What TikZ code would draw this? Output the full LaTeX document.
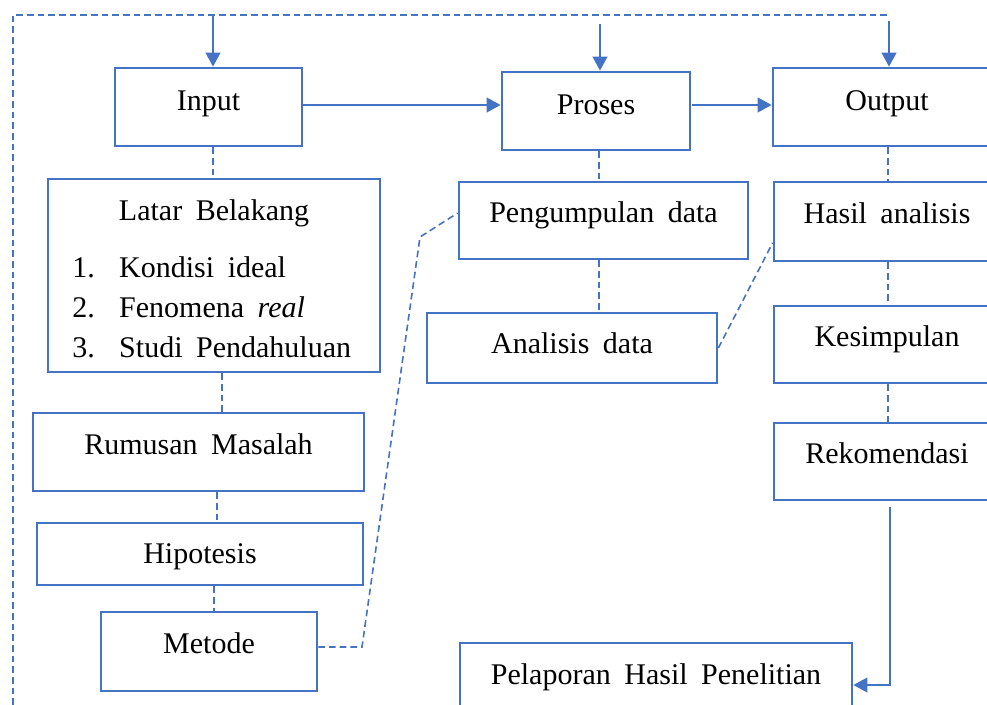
\documentclass[tikz,border=0pt]{standalone}
\usepackage{fontspec}
\setmainfont{Liberation Serif}[WordSpace=1.8]
\usetikzlibrary{arrows.meta}
\definecolor{bblue}{HTML}{4472C4}
\begin{document}
\begin{tikzpicture}[x=0.75pt,y=-0.75pt,
  every node/.style={font=\fontsize{22.5}{30}\selectfont, text=black},
  box/.style={draw=bblue, line width=2pt, inner sep=0pt, align=center,
              text height=7pt, text depth=4pt},
  lowtext/.style={text depth=1pt},
  dsh/.style={draw=bblue, line width=1.2pt, dash pattern=on 5pt off 3pt},
  arr/.style={draw=bblue, line width=1.5pt, -{Triangle[length=10.5pt,width=11pt]}}]
\useasboundingbox (0,0) rectangle (987,705);

% boxes
\node[box, lowtext, minimum width=140.25pt, minimum height=58.5pt] (input) at (208.5,107) {Input};
\node[box, lowtext, minimum width=141pt, minimum height=58.5pt] (proses) at (596,111) {Proses};
\node[box, lowtext, minimum width=171pt, minimum height=58.5pt] (output) at (887,107) {Output};

\node[box, minimum width=249pt, minimum height=144.75pt] (latar) at (214,275.5) {};
\node[anchor=base, inner sep=0pt] (latarT) at (214,221) {Latar Belakang};
\node[anchor=base west, inner sep=0pt] (latarL) at (72,278)
  {\begin{tabular}[t]{@{}p{35.25pt}@{}l@{}}
   1. & Kondisi ideal\\
   2. & Fenomena \textit{real}\\
   3. & Studi Pendahuluan
   \end{tabular}};

\node[box, minimum width=248.25pt, minimum height=58.5pt] (rumusan) at (198.5,452) {Rumusan Masalah};
\node[box, minimum width=244.5pt, minimum height=46.5pt, text height=14pt, text depth=0.2pt] (hipotesis) at (200,554) {Hipotesis};
\node[box, minimum width=162pt, minimum height=59.25pt] (metode) at (209,651.5) {Metode};

\node[box, minimum width=216.75pt, minimum height=57.75pt] (pengumpulan) at (603.5,220.5) {Pengumpulan data};
\node[box, minimum width=217.5pt, minimum height=52.5pt, text height=9pt, text depth=1pt] (analisis) at (572,348) {Analisis data};

\node[box, minimum width=169.5pt, minimum height=59.25pt] (hasil) at (887,221.5) {Hasil analisis};
\node[box, minimum width=169.5pt, minimum height=57.75pt] (kesimpulan) at (887,344.5) {Kesimpulan};
\node[box, minimum width=169.5pt, minimum height=57.75pt] (rekomendasi) at (887,461.5) {Rekomendasi};

\node[box, minimum width=294pt, minimum height=58.5pt] (pelaporan) at (656,682) {Pelaporan Hasil Penelitian};

% outer dashed frame
\coordinate (fbl) at (13,705);
\coordinate (ftl) at (13,15);
\coordinate (ftr) at (888,15);
\draw[dsh] (fbl) -- (ftl) -- (ftr);

% arrows from the frame
\coordinate (t1) at (213,15);
\coordinate (t2) at (600,24);
\coordinate (t3) at (889,21);
\draw[arr] (t1) -- (t1 |- input.north);
\draw[arr] (t2) -- (t2 |- proses.north);
\draw[arr] (t3) -- (t3 |- output.north);

% main flow arrows
\draw[arr] ([yshift=1.5pt]input.east) -- ([yshift=1.5pt]input.east -| proses.west);
\coordinate (p1) at (692,105);
\draw[arr] (p1) -- (p1 -| output.west);
\coordinate (r1) at (890,507);
\draw[arr] (r1) |- ([yshift=-2.25pt]pelaporan.east);

% dashed links
\draw[dsh] ([xshift=3.4pt]input.south) -- ([xshift=3.4pt]input.south |- latar.north);
\draw[dsh] ([xshift=6pt]latar.south) -- ([xshift=6pt]latar.south |- rumusan.north);
\draw[dsh] ([xshift=13.9pt]rumusan.south) -- ([xshift=13.9pt]rumusan.south |- hipotesis.north);
\draw[dsh] ([xshift=10.5pt]hipotesis.south) -- ([xshift=10.5pt]hipotesis.south |- metode.north);

\draw[dsh] ([xshift=2.25pt]proses.south) -- ([xshift=2.25pt]proses.south |- pengumpulan.north);
\draw[dsh] ([xshift=-3.4pt]pengumpulan.south) -- ([xshift=-3.4pt]pengumpulan.south |- analisis.north);

\draw[dsh] ([xshift=0.75pt]output.south) -- ([xshift=0.75pt]output.south |- hasil.north);
\draw[dsh] ([xshift=0.75pt]hasil.south) -- ([xshift=0.75pt]hasil.south |- kesimpulan.north);
\draw[dsh] ([xshift=0.75pt]kesimpulan.south) -- ([xshift=0.75pt]kesimpulan.south |- rekomendasi.north);

\coordinate (m1) at (362,647);
\coordinate (m2) at (420,237);
\draw[dsh] ([yshift=3.4pt]metode.east) -- (m1) -- (m2) -- ([yshift=5.6pt]pengumpulan.west);
\draw[dsh] (analisis.east) -- ([yshift=-16pt]hasil.west);
\end{tikzpicture}
\end{document}
